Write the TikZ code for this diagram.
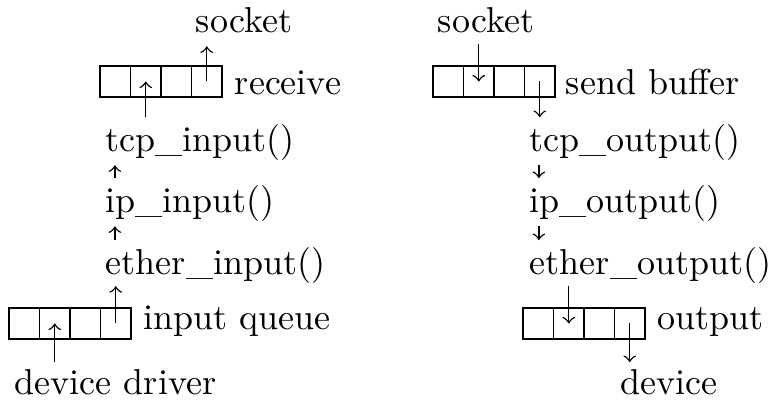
\documentclass[tikz,border=0pt]{standalone}
\begin{document}
\begin{tikzpicture}[x=0.27778pt,y=0.27778pt,
    lbl/.style={inner sep=2pt,anchor=base west},
    cell/.style={draw,rectangle,minimum width=8.5pt,minimum height=8.5pt,inner sep=0pt,outer sep=0pt}]
      \useasboundingbox (0,0) rectangle (773,400);
      \foreach \i in {1,...,4} {
        \node[cell] (rcv\i) at (84.75+30.5*\i,318.5) {};
        \node[cell] (inq\i) at (-6.25+30.5*\i,76.5) {};
        \node[cell] (snd\i) at (417.75+30.5*\i,318.5) {};
        \node[cell] (outq\i) at (507.75+30.5*\i,76.5) {};
      }
      \draw
        (188,367) node[lbl] (sockL){socket}
        (227,305) node[lbl] (rcvlbl){receive}
        (98,248) node[lbl] (tcpin){tcp\_input()}
        (98,187) node[lbl] (ipin){ip\_input()}
        (98,125) node[lbl] (etherin){ether\_input()}
        (136,70) node[lbl] (inqlbl){input queue}
        (7,5) node[lbl] (devdrv){device driver}
        (430,367) node[lbl] (sockR){socket}
        (558,305) node[lbl] (sndlbl){send buffer}
        (522,248) node[lbl] (tcpout){tcp\_output()}
        (522,187) node[lbl] (ipout){ip\_output()}
        (522,125) node[lbl] (etherout){ether\_output()}
        (650,70) node[lbl] (outlbl){output}
        (613,5) node[lbl] (device){device};
      \begin{scope}[->]
        \draw (devdrv.north -| inq2) to (inq2.center);
        \draw[shorten >=-1.6pt] (inq4.center) to (etherin.south -| inq4);
        \draw[shorten >=-1pt] ([xshift=4.7pt]etherin.north west) to ([xshift=4.7pt]ipin.south west);
        \draw[shorten >=-1pt] ([xshift=4.7pt]ipin.north west) to ([xshift=4.7pt]tcpin.south west);
        \draw (tcpin.north -| rcv2) to (rcv2.center);
        \draw[shorten >=1.4pt] (rcv4.center) to (sockL.south -| rcv4);
        \draw[shorten <=0.8pt] (sockR.south -| snd2) to (snd2.center);
        \draw (snd4.center) to (tcpout.north -| snd4);
        \draw[shorten <=-1pt] ([xshift=4.7pt]tcpout.south west) to ([xshift=4.7pt]ipout.north west);
        \draw[shorten <=-1pt] ([xshift=4.7pt]ipout.south west) to ([xshift=4.7pt]etherout.north west);
        \draw[shorten <=-1.6pt] (etherout.south -| outq2) to (outq2.center);
        \draw (outq4.center) to (device.north -| outq4);
      \end{scope}
    \end{tikzpicture}
\end{document}
